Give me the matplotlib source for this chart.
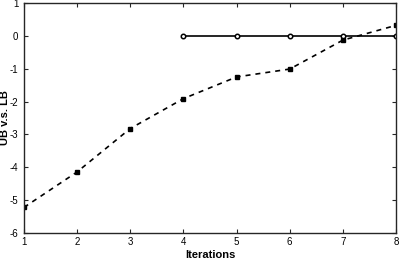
"""
UB vs LB convergence plot over iterations.
"""

import matplotlib
matplotlib.use('Agg')
import matplotlib.pyplot as plt

iters_lb = [1, 2, 3, 4, 5, 6, 7, 8]
lb = [-5.22, -4.14, -2.82, -1.91, -1.25, -1.01, -0.13, 0.32]
iters_ub = [4, 5, 6, 7, 8]
ub = [0, 0, 0, 0, 0]

plt.rcParams['font.family'] = ['Liberation Sans', 'DejaVu Sans']
plt.rcParams['axes.unicode_minus'] = False

fig = plt.figure(figsize=(3.99, 2.61), dpi=100)
ax = fig.add_axes([0.060, 0.107, 0.9325, 0.8815])

ax.plot(iters_ub, ub, color='black', linewidth=1.2, marker='o', markersize=3.2,
        markerfacecolor='white', markeredgewidth=1.1)
ax.plot(iters_lb, lb, color='black', linewidth=1.2, linestyle=(0, (3, 3)),
        marker='s', markersize=3.5, markerfacecolor='black')

ax.set_xlim(1, 8)
ax.set_ylim(-6, 1)
ax.set_xticks(range(1, 9))
ax.set_yticks(range(-6, 2))

ax.tick_params(direction='in', top=True, right=True, labelsize=7, length=3,
               width=0.8, color='#262626', pad=3)
ax.tick_params(axis='y', pad=4)
for s in ax.spines.values():
    s.set_linewidth(1.0)
    s.set_color('#262626')

ax.set_xlabel('Iterations', fontsize=8, fontweight='bold', labelpad=2)
ax.set_ylabel('UB v.s. LB', fontsize=8, fontweight='bold')
ax.yaxis.set_label_coords(-0.038, 0.5)

plt.savefig('out.png', dpi=100)
